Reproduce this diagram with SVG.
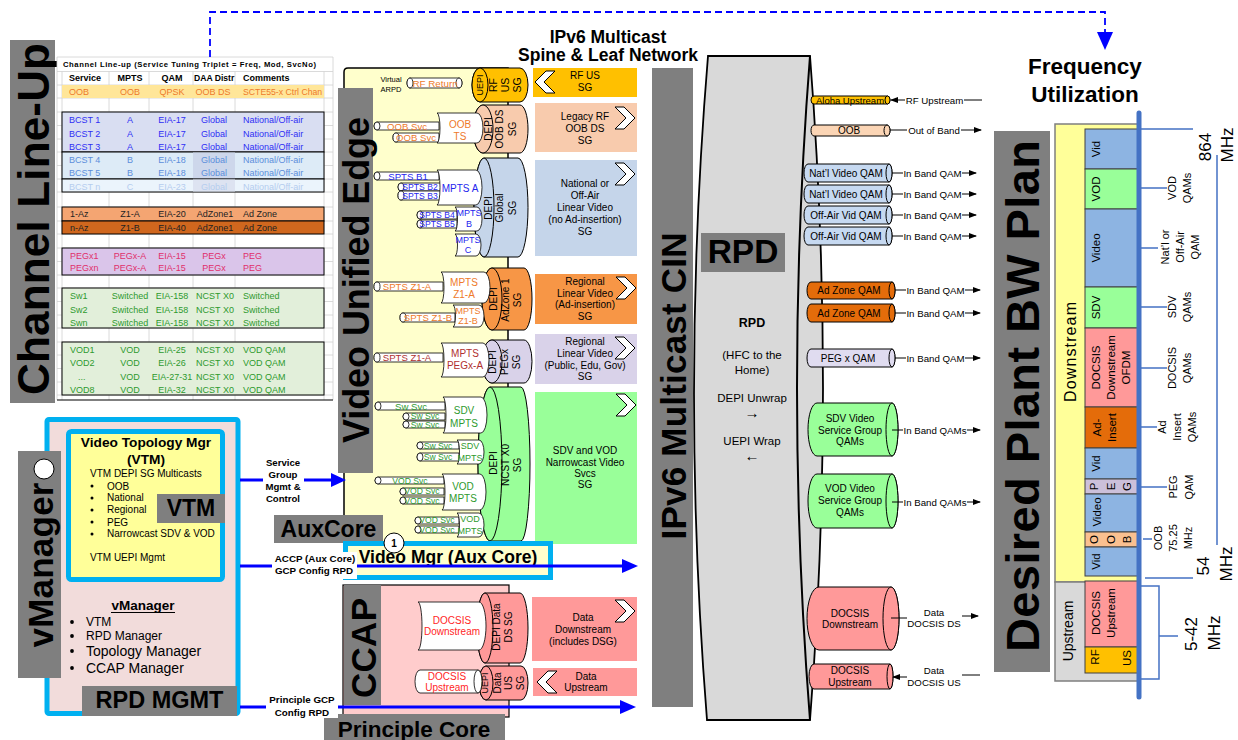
<svg xmlns="http://www.w3.org/2000/svg" width="1238" height="740" viewBox="0 0 1238 740">
<style>
text{font-family:"Liberation Sans",Arial,Helvetica,sans-serif;fill:#000}
.c{text-anchor:middle;dominant-baseline:central}
.m{text-anchor:middle}
.b{font-weight:bold}
.gbar{fill:#7f7f7f}
.wb{fill:#fff;stroke:#000;stroke-width:.8}
.chev{fill:#fff;stroke:#000;stroke-width:1}
.cyl{stroke:#000;stroke-width:1}
.tc{font-size:9px;dominant-baseline:central}
.tm{text-anchor:middle}
.p{font-size:9.6px}
.ps{font-size:8.6px}
.f9{font-size:9px}.f10{font-size:10px}.f11{font-size:11px}.f115{font-size:11.5px}
.or,.or text{fill:#EE7A2A}.bl,.bl text{fill:#2525EE}.rd,.rd text{fill:#B03030}.gr,.gr text{fill:#2E9A2E}.red,.red text{fill:#FF1F1F}
.b1,.b1 text{fill:#2F2FF5}.b2,.b2 text{fill:#5C8EDB}.b3,.b3 text{fill:#B5CDEF}.dk,.dk text{fill:#222}.pk,.pk text{fill:#E0306A}
.tick{stroke:#4472C4;stroke-width:1.5;fill:none}
.blue{stroke:#0000FF;stroke-width:3;fill:none}
.ln{stroke:#000;stroke-width:1;fill:none}
.grid{stroke:#D0D0D0;stroke-width:.8;fill:none}
.blk{stroke:#000;stroke-width:1}
</style>
<defs>
<marker id="ah" markerWidth="8" markerHeight="6" refX="7" refY="3" orient="auto" markerUnits="userSpaceOnUse"><path d="M0,0 L8,3 L0,6 z" fill="#000"/></marker>
<path id="chR" d="M0,0 h9 l11,11 l-11,11 h-9 l11,-11 z"/>
<path id="chL" d="M20,0 h-9 l-11,11 l11,11 h9 l-11,-11 z"/>
</defs>

<!-- Channel line-up -->
<g id="channel-lineup-label">
<rect x="10" y="40" width="45" height="363" class="gbar"/>
<text class="c b" font-size="44" textLength="352" transform="translate(33,219) rotate(-90)">Channel Line-Up</text>
</g>
<g id="channel-lineup-table">
<rect x="57" y="57" width="276" height="343" fill="#fff"/>
<path class="grid" d="M57,57V400M62,71.5V400M109,71.5V400M149,71.5V400M193,71.5V400M235,71.5V400M324,71.5V400M333,57V400
M57,57H333M57,71.5H333M57,85H333M57,98H333M57,112H333M57,125.5H333M57,139H333M57,152H333M57,165.5H333M57,179H333M57,192H333M57,207H333M57,221H333M57,234H333M57,248H333M57,261.5H333M57,275H333M57,288H333M57,301.5H333M57,315H333M57,328H333M57,342H333M57,355H333M57,368.5H333M57,382H333M57,395H333"/>
<rect x="62" y="85" width="262" height="13" fill="#FFE699"/>
<rect x="62" y="112" width="262" height="40" fill="#D9DEF2" class="blk"/>
<rect x="62" y="152" width="262" height="27" fill="#DDEBF7" class="blk"/>
<rect x="193" y="152.5" width="42" height="26" fill="#CDD7EB"/>
<rect x="62" y="179" width="262" height="13" fill="#EBF4FC" class="blk"/>
<rect x="193" y="179.5" width="42" height="12" fill="#DDE3F1"/>
<rect x="62" y="207" width="262" height="14" fill="#F4A572" class="blk"/>
<rect x="62" y="221" width="262" height="13" fill="#D0671E" class="blk"/>
<rect x="62" y="248" width="262" height="27" fill="#DAC5EA" class="blk"/>
<rect x="62" y="288" width="262" height="40" fill="#E2EFDA" class="blk"/>
<rect x="62" y="342" width="262" height="53" fill="#E2EFDA" class="blk"/>
<line x1="57" y1="400" x2="333" y2="400" stroke="#000" stroke-width="1.2"/>
<text class="tc b" style="font-size:7.7px" x="63" y="64.5" textLength="253">Channel Line-up (Service Tuning Triplet = Freq, Mod, SvcNo)</text>
<g class="b">
<text class="tc" x="69" y="78">Service</text><text class="tc tm" x="130" y="78">MPTS</text><text class="tc tm" x="172" y="78">QAM</text><text class="tc" x="194" y="78" style="font-size:8.6px">DAA Distr</text><text class="tc" x="243" y="78">Comments</text>
</g>
<g class="or">
<text class="tc" x="69" y="92">OOB</text><text class="tc tm" x="130" y="92">OOB</text><text class="tc tm" x="172" y="92">QPSK</text><text class="tc tm" x="213" y="92">OOB DS</text><text class="tc" x="243" y="92" style="font-size:8.7px">SCTE55-x Ctrl Chan</text>
</g>
<g class="b1">
<text class="tc" x="69" y="120">BCST 1</text><text class="tc tm" x="130" y="120">A</text><text class="tc tm" x="172" y="120">EIA-17</text><text class="tc tm" x="214" y="120">Global</text><text class="tc" x="243" y="120">National/Off-air</text>
<text class="tc" x="69" y="134">BCST 2</text><text class="tc tm" x="130" y="134">A</text><text class="tc tm" x="172" y="134">EIA-17</text><text class="tc tm" x="214" y="134">Global</text><text class="tc" x="243" y="134">National/Off-air</text>
<text class="tc" x="69" y="147">BCST 3</text><text class="tc tm" x="130" y="147">A</text><text class="tc tm" x="172" y="147">EIA-17</text><text class="tc tm" x="214" y="147">Global</text><text class="tc" x="243" y="147">National/Off-air</text>
</g>
<g class="b2">
<text class="tc" x="69" y="160">BCST 4</text><text class="tc tm" x="130" y="160">B</text><text class="tc tm" x="172" y="160">EIA-18</text><text class="tc tm" x="214" y="160">Global</text><text class="tc" x="243" y="160">National/Off-air</text>
<text class="tc" x="69" y="173">BCST 5</text><text class="tc tm" x="130" y="173">B</text><text class="tc tm" x="172" y="173">EIA-18</text><text class="tc tm" x="214" y="173">Global</text><text class="tc" x="243" y="173">National/Off-air</text>
</g>
<g class="b3">
<text class="tc" x="69" y="186.5">BCST n</text><text class="tc tm" x="130" y="186.5">C</text><text class="tc tm" x="172" y="186.5">EIA-23</text><text class="tc tm" x="214" y="186.5">Global</text><text class="tc" x="243" y="186.5">National/Off-air</text>
</g>
<g class="dk">
<text class="tc" x="70" y="214">1-Az</text><text class="tc tm" x="130" y="214">Z1-A</text><text class="tc tm" x="172" y="214">EIA-20</text><text class="tc tm" x="215" y="214">AdZone1</text><text class="tc" x="243" y="214">Ad Zone</text>
<text class="tc" x="70" y="227.5">n-Az</text><text class="tc tm" x="130" y="227.5">Z1-B</text><text class="tc tm" x="172" y="227.5">EIA-40</text><text class="tc tm" x="215" y="227.5">AdZone1</text><text class="tc" x="243" y="227.5">Ad Zone</text>
</g>
<g class="pk">
<text class="tc" x="70" y="255.5">PEGx1</text><text class="tc tm" x="130" y="255.5">PEGx-A</text><text class="tc tm" x="172" y="255.5">EIA-15</text><text class="tc tm" x="214" y="255.5">PEGx</text><text class="tc" x="243" y="255.5">PEG</text>
<text class="tc" x="70" y="268">PEGxn</text><text class="tc tm" x="130" y="268">PEGx-A</text><text class="tc tm" x="172" y="268">EIA-15</text><text class="tc tm" x="214" y="268">PEGx</text><text class="tc" x="243" y="268">PEG</text>
</g>
<g class="gr">
<text class="tc" x="70" y="296">Sw1</text><text class="tc tm" x="130" y="296">Switched</text><text class="tc tm" x="172" y="296">EIA-158</text><text class="tc tm" x="215" y="296">NCST X0</text><text class="tc" x="243" y="296">Switched</text>
<text class="tc" x="70" y="309.5">Sw2</text><text class="tc tm" x="130" y="309.5">Switched</text><text class="tc tm" x="172" y="309.5">EIA-158</text><text class="tc tm" x="215" y="309.5">NCST X0</text><text class="tc" x="243" y="309.5">Switched</text>
<text class="tc" x="70" y="322.5">Swn</text><text class="tc tm" x="130" y="322.5">Switched</text><text class="tc tm" x="172" y="322.5">EIA-158</text><text class="tc tm" x="215" y="322.5">NCST X0</text><text class="tc" x="243" y="322.5">Switched</text>
<text class="tc" x="70" y="350">VOD1</text><text class="tc tm" x="130" y="350">VOD</text><text class="tc tm" x="172" y="350">EIA-25</text><text class="tc tm" x="215" y="350">NCST X0</text><text class="tc" x="243" y="350">VOD QAM</text>
<text class="tc" x="70" y="363">VOD2</text><text class="tc tm" x="130" y="363">VOD</text><text class="tc tm" x="172" y="363">EIA-26</text><text class="tc tm" x="215" y="363">NCST X0</text><text class="tc" x="243" y="363">VOD QAM</text>
<text class="tc" x="78" y="376.5">...</text><text class="tc tm" x="130" y="376.5">VOD</text><text class="tc tm" x="172" y="376.5">EIA-27-31</text><text class="tc tm" x="215" y="376.5">NCST X0</text><text class="tc" x="243" y="376.5">VOD QAM</text>
<text class="tc" x="70" y="389.5">VOD8</text><text class="tc tm" x="130" y="389.5">VOD</text><text class="tc tm" x="172" y="389.5">EIA-32</text><text class="tc tm" x="215" y="389.5">NCST X0</text><text class="tc" x="243" y="389.5">VOD QAM</text>
</g>
</g>

<!-- vManager -->
<g id="vmanager">
<rect x="47" y="419.5" width="191" height="294" fill="#F2DCDB" stroke="#00B0F0" stroke-width="5" rx="2"/>
<text class="m b" font-size="13.5" x="143" y="610">vManager</text>
<line x1="111" y1="612.5" x2="175" y2="612.5" stroke="#000" stroke-width="1.2"/>
<circle cx="72" cy="622" r="1.9"/><circle cx="72" cy="636" r="1.9"/><circle cx="72" cy="651" r="1.9"/><circle cx="72" cy="668" r="1.9"/>
<text font-size="12" x="86" y="626">VTM</text>
<text font-size="12" x="86" y="640">RPD Manager</text>
<text font-size="14" x="86" y="656">Topology Manager</text>
<text font-size="14" x="86" y="673">CCAP Manager</text>
</g>
<g id="vtm">
<rect x="68.5" y="431.5" width="154" height="148" fill="#FFFF99" stroke="#00B0F0" stroke-width="5" rx="3"/>
<text class="m b" font-size="13.7" x="146" y="447">Video Topology Mgr</text>
<text class="m b" font-size="13.7" x="146" y="464">(VTM)</text>
<text class="f10" x="90" y="476.5">VTM DEPI SG Multicasts</text>
<circle cx="92" cy="486" r="1.5"/><circle cx="92" cy="498" r="1.5"/><circle cx="92" cy="510" r="1.5"/><circle cx="92" cy="522" r="1.5"/><circle cx="92" cy="534" r="1.5"/>
<text class="f10" x="107" y="489.5">OOB</text>
<text class="f10" x="107" y="501">National</text>
<text class="f10" x="107" y="513">Regional</text>
<text class="f10" x="107" y="525.5">PEG</text>
<text class="f10" x="107" y="537">Narrowcast SDV &amp; VOD</text>
<text class="f10" x="90" y="560.5">VTM UEPI Mgmt</text>
<rect x="157" y="494" width="68" height="29" class="gbar"/>
<text class="c b" font-size="23" x="191" y="508">VTM</text>
</g>
<g id="vmanager-label">
<rect x="18" y="451" width="43" height="227" class="gbar"/>
<text class="c b" font-size="35" textLength="165" transform="translate(40,565) rotate(-90)">vManager</text>
<circle cx="44" cy="469" r="10" fill="#fff" stroke="#000" stroke-width="1"/>
</g>
<g id="rpd-mgmt-label">
<rect x="82" y="686" width="155" height="30" class="gbar"/>
<text class="c b" font-size="23.5" x="159.5" y="700">RPD MGMT</text>
</g>

<!-- Video Unified Edge -->
<g id="video-unified-edge">
<rect x="344" y="68" width="164" height="477" fill="#FFFFCC"/>
<path d="M508,541 V68 H348 Q344,68 344,72 V545" fill="none" stroke="#000" stroke-width="1.5"/>
<rect x="338" y="88" width="35" height="385" class="gbar"/>
<text class="c b" font-size="36" textLength="326" transform="translate(356,280) rotate(-90)">Video Unified Edge</text>
</g>

<g id="sg-rf-us">
<path class="cyl" fill="#FFC000" d="M480,68 H520 A8,17 0 0 1 520,102 H480 A8,17 0 0 1 480,68 Z"/>
<ellipse class="cyl" fill="#FFC000" cx="480" cy="85" rx="8" ry="17"/>
<text class="c f9" transform="translate(480,85) rotate(-90)">UEPI</text>
<text class="c" font-size="10.5" transform="translate(493,85) rotate(-90)">RF</text>
<text class="c" font-size="10.5" transform="translate(505,85) rotate(-90)">US</text>
<text class="c" font-size="10.5" transform="translate(517,85) rotate(-90)">SG</text>
<path class="wb" d="M410,78 H459 A3,5 0 0 1 459,88 H410 A3,5 0 0 1 410,78 Z"/>
<ellipse class="wb" cx="459" cy="83" rx="3" ry="5"/>
<ellipse class="wb" cx="410" cy="83" rx="3" ry="5"/>
<text class="c or" font-size="9.8" x="435" y="83">RF Return</text>
<text class="c" font-size="7.5" x="391" y="79">Virtual</text>
<text class="c" font-size="7.5" x="391" y="89">ARPD</text>
<rect x="533" y="68" width="104" height="29" fill="#FFC000"/>
<use href="#chL" class="chev" x="535" y="71"/>
<text class="c f10" x="585" y="75">RF US</text>
<text class="c f10" x="585" y="87">SG</text>
</g>

<g id="sg-oob">
<path class="cyl" fill="#F8CBAD" d="M483,105 H520 A8,24 0 0 1 520,153 H483 A10,24 0 0 1 483,105 Z"/>
<ellipse class="cyl" fill="#F8CBAD" cx="483" cy="129" rx="10" ry="24"/>
<path class="wb" d="M439,122 H377 A3,4 0 0 0 377,130 H439 Z"/><ellipse class="wb" cx="377" cy="126" rx="3" ry="4"/>
<path class="wb" d="M439,133 H396 A3,4.5 0 0 0 396,142 H439 Z"/><ellipse class="wb" cx="396" cy="137.5" rx="3" ry="4.5"/>
<path class="wb" d="M437,113 H477 A6,15 0 0 1 477,143 H437 A3,15 0 0 0 437,113 Z"/>
<g class="or">
<text class="c p" x="407" y="126">OOB Svc</text>
<text class="c p" x="416" y="137.5">OOB Svc</text>
<text class="c f10" x="460" y="124">OOB</text>
<text class="c f10" x="460" y="136">TS</text>
</g>
<text class="c f10" transform="translate(488,129) rotate(-90)">DEPI</text>
<text class="c f10" transform="translate(499,129) rotate(-90)">OOB DS</text>
<text class="c f10" transform="translate(512,129) rotate(-90)">SG</text>
<rect x="535" y="103" width="102" height="49" fill="#F8CBAD"/>
<use href="#chR" class="chev" x="615" y="107"/>
<text class="c f10" x="585" y="116">Legacy RF</text>
<text class="c f10" x="585" y="128">OOB DS</text>
<text class="c f10" x="585" y="140">SG</text>
</g>

<g id="sg-global">
<path class="cyl" fill="#C5D5EA" d="M484,158 H518 A10,49.5 0 0 1 518,257 H484 A10,49.5 0 0 1 484,158 Z"/>
<ellipse class="cyl" fill="#C5D5EA" cx="484" cy="207.5" rx="10" ry="49.5"/>
<text class="c f10" transform="translate(488,208) rotate(-90)">DEPI</text>
<text class="c f10" transform="translate(499,208) rotate(-90)">Global</text>
<text class="c f10" transform="translate(512,208) rotate(-90)">SG</text>
<path class="wb" d="M439,172 H377 A3,4 0 0 0 377,180 H439 Z"/><ellipse class="wb" cx="377" cy="176" rx="3" ry="4"/>
<path class="wb" d="M441,183 H401 A3,4 0 0 0 401,191 H441 Z"/><ellipse class="wb" cx="401" cy="187" rx="3" ry="4"/>
<path class="wb" d="M441,191 H401 A3,4.5 0 0 0 401,200 H441 Z"/><ellipse class="wb" cx="401" cy="195.5" rx="3" ry="4.5"/>
<path class="wb" d="M457,211 H420 A3,4 0 0 0 420,219 H457 Z"/><ellipse class="wb" cx="420" cy="215" rx="3" ry="4"/>
<path class="wb" d="M457,220 H420 A3,4 0 0 0 420,228 H457 Z"/><ellipse class="wb" cx="420" cy="224" rx="3" ry="4"/>
<path class="wb" d="M437,170 H476 A6,17.5 0 0 1 476,205 H437 A3,17.5 0 0 0 437,170 Z"/>
<path class="wb" d="M455,207 H477 A5,12 0 0 1 477,231 H455 A2.5,12 0 0 0 455,207 Z"/>
<path class="wb" d="M455,234 H476 A5,11 0 0 1 476,256 H455 A2.5,11 0 0 0 455,234 Z"/>
<g class="bl">
<text class="c p" x="408" y="176">SPTS B1</text>
<text class="c ps" x="420" y="186.8">SPTS B2</text>
<text class="c ps" x="420" y="195.7">SPTS B3</text>
<text class="c ps" x="437" y="214.8">SPTS B4</text>
<text class="c ps" x="437" y="224.2">SPTS B5</text>
<text class="c f10" x="460" y="188">MPTS A</text>
<text class="c f9" x="469" y="213">MPTS</text>
<text class="c f9" x="469" y="224">B</text>
<text class="c f9" x="468" y="239.5">MPTS</text>
<text class="c f9" x="468" y="250">C</text>
</g>
<rect x="535" y="160" width="102" height="96" fill="#C5D5EA"/>
<use href="#chR" class="chev" x="615" y="163"/>
<text class="c f10" x="585" y="183">National or</text>
<text class="c f10" x="585" y="195">Off-Air</text>
<text class="c f10" x="585" y="207">Linear Video</text>
<text class="c f10" x="585" y="219">(no Ad-insertion)</text>
<text class="c f10" x="585" y="231">SG</text>
</g>

<g id="sg-adzone">
<path class="cyl" fill="#F79646" d="M492,268 H524 A8,31 0 0 1 524,330 H492 A10,31 0 0 1 492,268 Z"/>
<ellipse class="cyl" fill="#F79646" cx="492" cy="299" rx="10" ry="31"/>
<text class="c f10" transform="translate(493,299) rotate(-90)">DEPI</text>
<text class="c f10" transform="translate(505,300) rotate(-90)">AdZone 1</text>
<text class="c f10" transform="translate(517,300) rotate(-90)">SG</text>
<path class="wb" d="M443,282 H377 A3,4.5 0 0 0 377,291 H443 Z"/><ellipse class="wb" cx="377" cy="286.5" rx="3" ry="4.5"/>
<path class="wb" d="M455,313 H403 A3,4.5 0 0 0 403,322 H455 Z"/><ellipse class="wb" cx="403" cy="317.5" rx="3" ry="4.5"/>
<path class="wb" d="M441,272 H484 A6,15.5 0 0 1 484,303 H441 A3,15.5 0 0 0 441,272 Z"/>
<path class="wb" d="M453,305 H479 A5,11 0 0 1 479,327 H453 A2.5,11 0 0 0 453,305 Z"/>
<g class="or">
<text class="c p" x="407" y="286.5">SPTS Z1-A</text>
<text class="c p" x="428" y="317.5">SPTS Z1-B</text>
<text class="c f10" x="464" y="282">MPTS</text>
<text class="c f10" x="464" y="294">Z1-A</text>
<text class="c f9" x="468" y="310.5">MPTS</text>
<text class="c f9" x="468" y="321">Z1-B</text>
</g>
<rect x="535" y="274" width="102" height="50" fill="#F79646"/>
<use href="#chR" class="chev" x="616" y="277"/>
<text class="c f10" x="585" y="281">Regional</text>
<text class="c f10" x="585" y="293">Linear Video</text>
<text class="c f10" x="585" y="304">(Ad-insertion)</text>
<text class="c f10" x="585" y="316">SG</text>
</g>

<g id="sg-pegx">
<path class="cyl" fill="#D9D2E9" d="M492,340 H524 A8,21.5 0 0 1 524,383 H492 A10,21.5 0 0 1 492,340 Z"/>
<ellipse class="cyl" fill="#D9D2E9" cx="492" cy="361.5" rx="10" ry="21.5"/>
<text class="c f10" transform="translate(492,362) rotate(-90)">DEPI</text>
<text class="c f10" transform="translate(504,362) rotate(-90)">PEGx</text>
<text class="c f10" transform="translate(516,362) rotate(-90)">SG</text>
<path class="wb" d="M443,353 H377 A3,4.5 0 0 0 377,362 H443 Z"/><ellipse class="wb" cx="377" cy="357.5" rx="3" ry="4.5"/>
<path class="wb" d="M441,343 H483 A6,17 0 0 1 483,377 H441 A3,17 0 0 0 441,343 Z"/>
<g class="rd">
<text class="c p" x="407" y="357.5">SPTS Z1-A</text>
<text class="c f10" x="465" y="353">MPTS</text>
<text class="c f10" x="465" y="365">PEGx-A</text>
</g>
<rect x="535" y="334" width="102" height="50" fill="#D9D2E9"/>
<use href="#chR" class="chev" x="615" y="337"/>
<text class="c f10" x="585" y="341">Regional</text>
<text class="c f10" x="585" y="353">Linear Video</text>
<text class="c f10" x="585" y="365">(Public, Edu, Gov)</text>
<text class="c f10" x="585" y="376">SG</text>
</g>

<g id="sg-ncst">
<path class="cyl" fill="#99FF99" d="M490,387 H521 A9,77 0 0 1 521,541 H490 A12,77 0 0 1 490,387 Z"/>
<ellipse class="cyl" fill="#99FF99" cx="490" cy="464" rx="12" ry="77"/>
<text class="c f10" transform="translate(493,463) rotate(-90)">DEPI</text>
<text class="c f10" transform="translate(505,465) rotate(-90)">NCST X0</text>
<text class="c f10" transform="translate(517,465) rotate(-90)">SG</text>
<path class="wb" d="M445,402 H378 A3,4 0 0 0 378,410 H445 Z"/><ellipse class="wb" cx="378" cy="406" rx="3" ry="4"/>
<path class="wb" d="M445,413 H406 A3,3.5 0 0 0 406,420 H445 Z"/><ellipse class="wb" cx="406" cy="416.5" rx="3" ry="3.5"/>
<path class="wb" d="M445,421 H406 A3,3.5 0 0 0 406,428 H445 Z"/><ellipse class="wb" cx="406" cy="424.5" rx="3" ry="3.5"/>
<path class="wb" d="M459,442 H420 A3,3.5 0 0 0 420,449 H459 Z"/><ellipse class="wb" cx="420" cy="445.5" rx="3" ry="3.5"/>
<path class="wb" d="M459,453 H420 A3,4 0 0 0 420,461 H459 Z"/><ellipse class="wb" cx="420" cy="457" rx="3" ry="4"/>
<path class="wb" d="M444,477 H378 A3,3.5 0 0 0 378,484 H444 Z"/><ellipse class="wb" cx="378" cy="480.5" rx="3" ry="3.5"/>
<path class="wb" d="M444,488 H403 A3,3.5 0 0 0 403,495 H444 Z"/><ellipse class="wb" cx="403" cy="491.5" rx="3" ry="3.5"/>
<path class="wb" d="M444,497 H403 A3,3.5 0 0 0 403,504 H444 Z"/><ellipse class="wb" cx="403" cy="500.5" rx="3" ry="3.5"/>
<path class="wb" d="M459,517 H418 A3,3.5 0 0 0 418,524 H459 Z"/><ellipse class="wb" cx="418" cy="520.5" rx="3" ry="3.5"/>
<path class="wb" d="M459,526 H418 A3,3.5 0 0 0 418,533 H459 Z"/><ellipse class="wb" cx="418" cy="529.5" rx="3" ry="3.5"/>
<path class="wb" d="M443,397 H481 A6,18 0 0 1 481,433 H443 A3,18 0 0 0 443,397 Z"/>
<path class="wb" d="M457,440 H479 A5,12 0 0 1 479,464 H457 A2.5,12 0 0 0 457,440 Z"/>
<path class="wb" d="M442,474 H480 A6,18 0 0 1 480,510 H442 A3,18 0 0 0 442,474 Z"/>
<path class="wb" d="M457,513 H479 A5,12 0 0 1 479,537 H457 A2.5,12 0 0 0 457,513 Z"/>
<g class="gr">
<text class="c p" x="411" y="406">Sw Svc</text>
<text class="c ps" x="425" y="416.3">Sw Svc</text>
<text class="c ps" x="425" y="424.7">Sw Svc</text>
<text class="c ps" x="438" y="445.5">Sw Svc</text>
<text class="c ps" x="438" y="457">Sw Svc</text>
<text class="c ps" x="410" y="480.5">VOD Svc</text>
<text class="c ps" x="422" y="491.3">VOD Svc</text>
<text class="c ps" x="422" y="500.7">VOD Svc</text>
<text class="c ps" x="437" y="520.3">VOD Svc</text>
<text class="c ps" x="437" y="529.7">VOD Svc</text>
<text class="c f10" x="464" y="410">SDV</text>
<text class="c f10" x="464" y="423">MPTS</text>
<text class="c f9" x="470" y="446">SDV</text>
<text class="c f9" x="470" y="457.5">MPTS</text>
<text class="c f10" x="463" y="486">VOD</text>
<text class="c f10" x="463" y="498">MPTS</text>
<text class="c f9" x="470" y="519">VOD</text>
<text class="c f9" x="470" y="530.5">MPTS</text>
</g>
<rect x="535" y="392" width="102" height="152" fill="#99FF99"/>
<use href="#chR" class="chev" x="616" y="394"/>
<text class="c f10" x="585" y="450">SDV and VOD</text>
<text class="c f10" x="585" y="462">Narrowcast Video</text>
<text class="c f10" x="585" y="473">Svcs</text>
<text class="c f10" x="585" y="484">SG</text>
</g>

<g id="auxcore-label">
<rect x="274" y="515" width="109" height="28" class="gbar"/>
<text class="c b" font-size="23" x="328.5" y="528.5">AuxCore</text>
</g>
<g id="video-mgr">
<rect x="345.5" y="543.5" width="205" height="34" fill="#FFFFCC" stroke="#00B0F0" stroke-width="5"/>
<text class="c b" font-size="17.5" x="448" y="557">Video Mgr (Aux Core)</text>
<circle cx="394" cy="543" r="10" fill="#fff" stroke="#000" stroke-width="1"/>
<text class="c b f10" x="394" y="543">1</text>
</g>

<!-- CCAP -->
<g id="ccap">
<rect x="343" y="585" width="166" height="132" fill="#FFCCCC" stroke="#000" stroke-width="1.2"/>
<rect x="344" y="585" width="37" height="120" class="gbar"/>
<text class="c b" font-size="35" textLength="100" transform="translate(363,648) rotate(-90)">CCAP</text>
<path class="cyl" fill="#FF9999" d="M485,593 H520 A8,35 0 0 1 520,663 H485 A8,35 0 0 1 485,593 Z"/>
<ellipse class="cyl" fill="#FF9999" cx="485" cy="628" rx="8" ry="35"/>
<text class="c f10" transform="translate(496,627) rotate(-90)">DEPI Data</text>
<text class="c f10" transform="translate(508,627) rotate(-90)">DS SG</text>
<path class="wb" d="M418,602 H479 A7,24 0 0 1 479,650 H418 A4,24 0 0 0 418,602 Z"/>
<g class="red">
<text class="c f10" x="452" y="620">DOCSIS</text>
<text class="c f10" x="452" y="631.5">Downstream</text>
</g>
<path class="cyl" fill="#FF9999" d="M486,666 H521 A7,17 0 0 1 521,700 H486 A7,17 0 0 1 486,666 Z"/>
<ellipse class="cyl" fill="#FF9999" cx="486" cy="683" rx="7" ry="17"/>
<path class="wb" d="M420,670 H478 A4,11.5 0 0 1 478,693 H420 A5,11.5 0 0 1 420,670 Z"/>
<ellipse class="wb" cx="478" cy="681.5" rx="4" ry="11.5"/>
<g class="red">
<text class="c f10" x="447" y="676">DOCSIS</text>
<text class="c f10" x="447" y="687.5">Upstream</text>
</g>
<text class="c f9" transform="translate(485,683) rotate(-90)">UEPI</text>
<text class="c f10" transform="translate(497,683) rotate(-90)">Data</text>
<text class="c f10" transform="translate(508,683) rotate(-90)">US</text>
<text class="c f10" transform="translate(520,683) rotate(-90)">SG</text>
<rect x="532" y="597" width="105" height="64" fill="#FF9999"/>
<use href="#chR" class="chev" x="615" y="600"/>
<text class="c f10" x="583" y="617">Data</text>
<text class="c f10" x="583" y="629">Downstream</text>
<text class="c f10" x="583" y="641">(includes DSG)</text>
<rect x="533" y="668" width="104" height="28" fill="#FF9999"/>
<use href="#chL" class="chev" x="537" y="671"/>
<text class="c f10" x="586" y="676">Data</text>
<text class="c f10" x="586" y="687.5">Upstream</text>
</g>
<g id="principle-core-label">
<rect x="324" y="714" width="181" height="26" class="gbar"/>
<text class="c b" font-size="22.5" x="414" y="729">Principle Core</text>
</g>

<!-- IPv6 CIN -->
<g id="ipv6-cin">
<text class="m b" font-size="17.5" x="608" y="43">IPv6 Multicast</text>
<text class="m b" font-size="17.5" x="608" y="61">Spine &amp; Leaf Network</text>
<rect x="652" y="68" width="41" height="639" class="gbar"/>
<text class="c b" font-size="35" textLength="307" transform="translate(673,386) rotate(-90)">IPv6 Multicast CIN</text>
</g>

<!-- RPD -->
<g id="rpd">
<path d="M708,56 H810 Q836,388 810,720 H707 Q680.5,388 708,56 Z" fill="#D9D9D9" stroke="#000" stroke-width="1.8"/>
<path d="M810,56 Q784,388 810,720" fill="none" stroke="#000" stroke-width="2"/>
<rect x="701" y="233" width="84" height="39" class="gbar"/>
<text class="c b" font-size="33.5" x="743" y="251">RPD</text>
<text class="c b" font-size="12.5" x="752" y="323">RPD</text>
<text class="c f115" x="752" y="355">(HFC to the</text>
<text class="c f115" x="752" y="370">Home)</text>
<text class="c f115" x="752" y="398">DEPI Unwrap</text>
<text class="c" font-size="15" x="752" y="412">→</text>
<text class="c f115" x="752" y="441">UEPI Wrap</text>
<text class="c" font-size="15" x="752" y="455">←</text>
</g>
<g id="rpd-qams">
<g id="qam-aloha"><path class="cyl" fill="#FFC000" d="M814,96 H887.5 A2.5,4 0 0 1 887.5,104 H814 A3,4 0 0 1 814,96 Z"/><ellipse class="cyl" fill="#FFC000" cx="887.5" cy="100" rx="2.5" ry="4"/><text class="c" font-size="9.5" x="850" y="100">Aloha Upstream</text></g>
<g id="qam-oob"><path class="cyl" fill="#FBD5B5" d="M814,125 H887 A3,5.5 0 0 1 887,136 H814 A3,5.5 0 0 1 814,125 Z"/><ellipse class="cyl" fill="#FBD5B5" cx="887" cy="130.5" rx="3" ry="5.5"/><text class="c f10" x="849" y="130">OOB</text></g>
<g id="qam-natl-1"><path class="cyl" fill="#C6D9F1" d="M808,164 H889 A3,9 0 0 1 889,182 H808 A4,9 0 0 1 808,164 Z"/><ellipse class="cyl" fill="#C6D9F1" cx="889" cy="173" rx="3" ry="9"/><text class="c f10" x="846" y="173">Nat’l Video QAM</text></g>
<g id="qam-natl-2"><path class="cyl" fill="#C6D9F1" d="M808,185 H889 A3,9 0 0 1 889,203 H808 A4,9 0 0 1 808,185 Z"/><ellipse class="cyl" fill="#C6D9F1" cx="889" cy="194" rx="3" ry="9"/><text class="c f10" x="846" y="194">Nat’l Video QAM</text></g>
<g id="qam-offair-1"><path class="cyl" fill="#C6D9F1" d="M808,206 H889 A3,9 0 0 1 889,224 H808 A4,9 0 0 1 808,206 Z"/><ellipse class="cyl" fill="#C6D9F1" cx="889" cy="215" rx="3" ry="9"/><text class="c f10" x="846" y="215">Off-Air Vid QAM</text></g>
<g id="qam-offair-2"><path class="cyl" fill="#C6D9F1" d="M808,227 H889 A3,9 0 0 1 889,245 H808 A4,9 0 0 1 808,227 Z"/><ellipse class="cyl" fill="#C6D9F1" cx="889" cy="236" rx="3" ry="9"/><text class="c f10" x="846" y="236">Off-Air Vid QAM</text></g>
<g id="qam-adzone-1"><path class="cyl" fill="#E46C0A" d="M811,282 H892 A3,8.5 0 0 1 892,299 H811 A4,8.5 0 0 1 811,282 Z"/><ellipse class="cyl" fill="#E46C0A" cx="892" cy="290.5" rx="3" ry="8.5"/><text class="c f10" x="849" y="290">Ad Zone QAM</text></g>
<g id="qam-adzone-2"><path class="cyl" fill="#E46C0A" d="M811,304 H892 A3,9 0 0 1 892,322 H811 A4,9 0 0 1 811,304 Z"/><ellipse class="cyl" fill="#E46C0A" cx="892" cy="313" rx="3" ry="9"/><text class="c f10" x="849" y="313">Ad Zone QAM</text></g>
<g id="qam-peg"><path class="cyl" fill="#E0DCF0" d="M811,349 H892 A3,9 0 0 1 892,367 H811 A4,9 0 0 1 811,349 Z"/><ellipse class="cyl" fill="#E0DCF0" cx="892" cy="358" rx="3" ry="9"/><text class="c f10" x="848" y="358">PEG x QAM</text></g>
<g id="qam-sdv"><path class="cyl" fill="#99FF99" d="M817,403 H892 A6,26.5 0 0 1 892,456 H817 A9,26.5 0 0 1 817,403 Z"/><ellipse class="cyl" fill="#99FF99" cx="892" cy="429.5" rx="6" ry="26.5"/><text class="c f10" x="850" y="418">SDV Video</text><text class="c f10" x="850" y="430">Service Group</text><text class="c f10" x="850" y="441">QAMs</text></g>
<g id="qam-vod"><path class="cyl" fill="#99FF99" d="M817,474 H892 A6,27 0 0 1 892,528 H817 A9,27 0 0 1 817,474 Z"/><ellipse class="cyl" fill="#99FF99" cx="892" cy="501" rx="6" ry="27"/><text class="c f10" x="850" y="488">VOD Video</text><text class="c f10" x="850" y="500">Service Group</text><text class="c f10" x="850" y="512">QAMs</text></g>
<g id="qam-docsis-ds"><path class="cyl" fill="#FF9999" d="M819,587 H891 A8,31.5 0 0 1 891,650 H819 A12,31.5 0 0 1 819,587 Z"/><ellipse class="cyl" fill="#FF9999" cx="891" cy="618.5" rx="8" ry="31.5"/><text class="c f10" x="850" y="613">DOCSIS</text><text class="c f10" x="850" y="624">Downstream</text></g>
<g id="qam-docsis-us"><path class="cyl" fill="#FF9999" d="M814,664 H890 A3,12.5 0 0 1 890,689 H814 A5,12.5 0 0 1 814,664 Z"/><ellipse class="cyl" fill="#FF9999" cx="890" cy="676.5" rx="3" ry="12.5"/><text class="c f10" x="850" y="670">DOCSIS</text><text class="c f10" x="850" y="682">Upstream</text></g>
</g>

<!-- BW plan -->
<g id="bw-plan">
<rect x="994" y="131" width="56" height="541" class="gbar"/>
<text class="c b" font-size="47" textLength="512" transform="translate(1022,396) rotate(-90)">Desired Plant BW Plan</text>
<text class="m b" font-size="22.5" x="1085" y="74">Frequency</text>
<text class="m b" font-size="22.5" x="1085" y="102">Utilization</text>
<rect x="1055" y="124" width="84" height="458" fill="#FFFF99" stroke="#7f7f7f" stroke-width="1.5"/>
<rect x="1055" y="582" width="84" height="99" fill="#D9D9D9" stroke="#7f7f7f" stroke-width="1.5"/>
<text class="c" font-size="16" textLength="100" transform="translate(1070,352) rotate(-90)">Downstream</text>
<text class="c" font-size="14" transform="translate(1068,631) rotate(-90)">Upstream</text>
<g stroke="#404040" stroke-width="1">
<rect x="1085" y="129" width="53" height="40" fill="#8DB4E2"/>
<rect x="1085" y="169" width="53" height="40" fill="#99FF99"/>
<rect x="1085" y="209" width="53" height="78" fill="#8DB4E2"/>
<rect x="1085" y="287" width="53" height="41" fill="#99FF99"/>
<rect x="1085" y="328" width="53" height="79" fill="#FF9999"/>
<rect x="1085" y="407" width="53" height="41" fill="#E46C0A"/>
<rect x="1085" y="448" width="53" height="31" fill="#8DB4E2"/>
<rect x="1085" y="479" width="53" height="15" fill="#CCC0DA"/>
<rect x="1085" y="494" width="53" height="38" fill="#8DB4E2"/>
<rect x="1085" y="532" width="53" height="15" fill="#FAC090"/>
<rect x="1085" y="547" width="53" height="29" fill="#8DB4E2"/>
<rect x="1085" y="581" width="53" height="66" fill="#FF9999"/>
<rect x="1085" y="647" width="53" height="26" fill="#FFC000"/>
</g>
<g font-size="11.5">
<text class="c" transform="translate(1096,149) rotate(-90)">Vid</text>
<text class="c" transform="translate(1096,189) rotate(-90)">VOD</text>
<text class="c" transform="translate(1096,248) rotate(-90)">Video</text>
<text class="c" transform="translate(1096,307.5) rotate(-90)">SDV</text>
<text class="c" transform="translate(1096,367.5) rotate(-90)">DOCSIS</text>
<text class="c" transform="translate(1111,367.5) rotate(-90)">Downstream</text>
<text class="c" transform="translate(1126,367.5) rotate(-90)">OFDM</text>
<text class="c" transform="translate(1097,427.5) rotate(-90)">Ad-</text>
<text class="c" transform="translate(1112,427.5) rotate(-90)">Insert</text>
<text class="c" transform="translate(1096,463.5) rotate(-90)">Vid</text>
<text class="c" transform="translate(1094,486.5) rotate(-90)">P</text>
<text class="c" transform="translate(1111,486.5) rotate(-90)">E</text>
<text class="c" transform="translate(1127,486.5) rotate(-90)">G</text>
<text class="c" transform="translate(1097,512) rotate(-90)">Video</text>
<text class="c" transform="translate(1094,539.5) rotate(-90)">O</text>
<text class="c" transform="translate(1111,539.5) rotate(-90)">O</text>
<text class="c" transform="translate(1127,539.5) rotate(-90)">B</text>
<text class="c" transform="translate(1096,561.5) rotate(-90)">Vid</text>
<text class="c" transform="translate(1096,613) rotate(-90)">DOCSIS</text>
<text class="c" transform="translate(1111,613) rotate(-90)">Upstream</text>
<text class="c" transform="translate(1095,657) rotate(-90)">RF</text>
<text class="c" transform="translate(1127,658) rotate(-90)">US</text>
</g>
<line x1="1139" y1="113" x2="1139" y2="697" stroke="#4472C4" stroke-width="5" stroke-linecap="round"/>
<path class="tick" d="M1140,129 H1193 M1145,578 H1193 M1217,155 V545 M1141,586 H1159 V679 H1141 M1159,636 H1178
M1141,188 H1167 M1141,248 H1158 M1141,307 H1167 M1141,368 H1167 M1141,427 H1157 M1141,487 H1167 M1143,539 H1152"/>
<g font-size="17">
<text class="c" transform="translate(1205,147) rotate(-90)">864</text>
<text class="c" transform="translate(1227,145) rotate(-90)">MHz</text>
<text class="c" transform="translate(1203,566) rotate(-90)">54</text>
<text class="c" transform="translate(1226,564) rotate(-90)">MHz</text>
<text class="c" transform="translate(1191,634) rotate(-90)">5-42</text>
<text class="c" transform="translate(1214,633) rotate(-90)">MHz</text>
</g>
<g font-size="11">
<text class="c" transform="translate(1172,188) rotate(-90)">VOD</text>
<text class="c" transform="translate(1187,188) rotate(-90)">QAMs</text>
<text class="c" transform="translate(1165,247) rotate(-90)">Nat’l or</text>
<text class="c" transform="translate(1180,247) rotate(-90)">Off-Air</text>
<text class="c" transform="translate(1195,247) rotate(-90)">QAM</text>
<text class="c" transform="translate(1172,307) rotate(-90)">SDV</text>
<text class="c" transform="translate(1187,307) rotate(-90)">QAMs</text>
<text class="c" transform="translate(1172,368) rotate(-90)">DOCSIS</text>
<text class="c" transform="translate(1187,368) rotate(-90)">QAMs</text>
<text class="c" transform="translate(1162,427) rotate(-90)">Ad</text>
<text class="c" transform="translate(1177,427) rotate(-90)">Insert</text>
<text class="c" transform="translate(1192,427) rotate(-90)">QAMs</text>
<text class="c" transform="translate(1173,487) rotate(-90)">PEG</text>
<text class="c" transform="translate(1189,487) rotate(-90)">QAM</text>
<text class="c" transform="translate(1158,538) rotate(-90)">OOB</text>
<text class="c" transform="translate(1173,538) rotate(-90)">75.25</text>
<text class="c" transform="translate(1188,538) rotate(-90)">MHz</text>
</g>
</g>

<!-- Connectors -->
<g id="connectors">
<path d="M210,57 V12 H1105 V34" fill="none" stroke="#0000FF" stroke-width="1.8" stroke-dasharray="7 4"/>
<polygon points="1097,32 1113,32 1105,50" fill="#0000FF"/>
<path class="blue" d="M240,480 H333"/><polygon points="331,473 346,480 331,487" fill="#0000FF"/>
<path class="blue" d="M240,566 H624"/><polygon points="622,559 638,566 622,573" fill="#0000FF"/>
<path class="blue" d="M240,707 H622"/><polygon points="620,700 636,707 620,714" fill="#0000FF"/>
<rect x="263" y="455" width="41" height="50" fill="#fff"/>
<g class="b" font-size="9.6">
<text class="m" x="283" y="465.5">Service</text>
<text class="m" x="283" y="477.5">Group</text>
<text class="m" x="283" y="489.5">Mgmt &amp;</text>
<text class="m" x="283" y="501.5">Control</text>
</g>
<rect x="272" y="552" width="85" height="27" fill="#fff"/>
<g class="b" font-size="9.8">
<text class="m" x="315" y="561.5">ACCP (Aux Core)</text>
<text class="m" x="314" y="574">GCP Config RPD</text>
</g>
<rect x="266" y="692" width="72" height="26" fill="#fff"/>
<g class="b" font-size="9.8">
<text class="m" x="302" y="703">Principle GCP</text>
<text class="m" x="302" y="716">Config RPD</text>
</g>
<g font-size="9.7">
<path class="ln" d="M982,100 H964"/><path class="ln" d="M905,100 H891" marker-end="url(#ah)"/><text class="c" x="934.5" y="100">RF Upstream</text>
<path class="ln" d="M890,130 H907"/><path class="ln" d="M961,130 H981" marker-end="url(#ah)"/><text class="c" x="934" y="130">Out of Band</text>
<path class="ln" d="M892,173 H903"/><path class="ln" d="M962,173 H976" marker-end="url(#ah)"/><text class="c" x="932.5" y="173">In Band QAM</text>
<path class="ln" d="M892,194 H903"/><path class="ln" d="M962,194 H976" marker-end="url(#ah)"/><text class="c" x="932.5" y="194">In Band QAM</text>
<path class="ln" d="M892,215 H903"/><path class="ln" d="M962,215 H976" marker-end="url(#ah)"/><text class="c" x="932.5" y="215">In Band QAM</text>
<path class="ln" d="M892,236 H903"/><path class="ln" d="M962,236 H976" marker-end="url(#ah)"/><text class="c" x="932.5" y="236">In Band QAM</text>
<path class="ln" d="M895,290 H906"/><path class="ln" d="M965,290 H980" marker-end="url(#ah)"/><text class="c" x="935.5" y="290">In Band QAM</text>
<path class="ln" d="M895,313 H906"/><path class="ln" d="M965,313 H980" marker-end="url(#ah)"/><text class="c" x="935.5" y="313">In Band QAM</text>
<path class="ln" d="M895,358 H906"/><path class="ln" d="M965,358 H980" marker-end="url(#ah)"/><text class="c" x="935.5" y="358">In Band QAM</text>
<path class="ln" d="M892,430 H903"/><path class="ln" d="M967,430 H980" marker-end="url(#ah)"/><text class="c" x="935" y="430">In Band QAMs</text>
<path class="ln" d="M892,502 H903"/><path class="ln" d="M967,502 H980" marker-end="url(#ah)"/><text class="c" x="935" y="502">In Band QAMs</text>
<path class="ln" d="M891,618 H907"/><path class="ln" d="M962,616 H978" marker-end="url(#ah)"/><text class="c" x="934" y="612">Data</text><text class="c" x="934" y="623.5">DOCSIS DS</text>
<path class="ln" d="M907,677 H893" marker-end="url(#ah)"/><path class="ln" d="M962,675 H980"/><text class="c" x="934" y="670">Data</text><text class="c" x="934" y="682">DOCSIS US</text>
</g>
</g>
</svg>
